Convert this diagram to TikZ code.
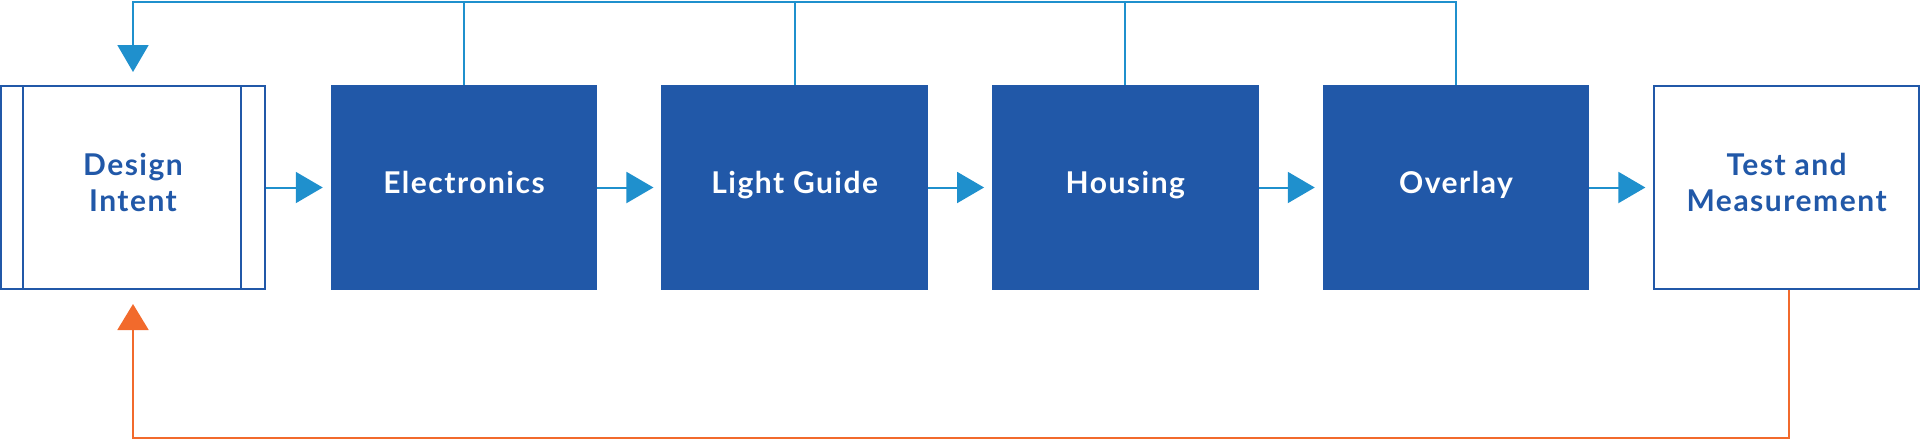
\documentclass[tikz,border=0pt]{standalone}
\usepackage{fontspec}
\setmainfont{Lato}[LetterSpace=5]
\usetikzlibrary{arrows.meta}
\definecolor{boxblue}{HTML}{2158A8}
\definecolor{lineblue}{HTML}{1F90CD}
\definecolor{orng}{HTML}{F26A2C}
\begin{document}
\begin{tikzpicture}[x=0.5pt,y=-0.5pt,
  stage/.style={draw=boxblue,line width=1pt,fill=boxblue,text=white,minimum width=132.25pt,minimum height=101.5pt,inner sep=0pt,font=\fontsize{15}{18}\selectfont\bfseries,text height=10.75pt,text depth=5pt},
  endbox/.style={draw=boxblue,line width=1pt,fill=white,minimum width=132.25pt,minimum height=101.5pt,inner sep=0pt},
  endlbl/.style={text=boxblue,font=\fontsize{15}{18}\selectfont\bfseries,align=center,inner sep=0pt,yshift=2.45pt},
  flow/.style={draw=lineblue,line width=1pt,-{Triangle[length=13.5pt,width=15.5pt]}},
  fb/.style={draw=lineblue,line width=1pt},
  ret/.style={draw=orng,line width=1pt,-{Triangle[length=13pt,width=15.5pt]}}]
\useasboundingbox (0,0) rectangle (1920,439);
\node[endbox,minimum width=132pt,label={[endlbl]center:{Design\\Intent}}] (di) at (133,187.5) {};
\draw[boxblue,line width=1pt] ([xshift=11.5pt]di.north west) -- ([xshift=11.5pt]di.south west)
  ([xshift=-12.5pt]di.north east) -- ([xshift=-12.5pt]di.south east);
\node[stage] (el) at (464,187.5) {Electronics};
\node[stage] (lg) at (794.7,187.5) {Light Guide};
\node[stage] (ho) at (1125.3,187.5) {Housing};
\node[stage] (ov) at (1456,187.5) {Overlay};
\node[endbox,label={[endlbl]center:{Test and\\Measurement}}] (tm) at (1786.6,187.5) {};
\coordinate (top) at (133,1.5);
\coordinate (bot) at (1788.6,437.5);
\foreach \a/\b in {di/el,el/lg,lg/ho,ho/ov,ov/tm}
  \draw[flow,shorten >=4pt] (\a.east) -- (\b.west);
\draw[fb] (el.north) -- (el.north |- top);
\draw[fb] (lg.north) -- (lg.north |- top);
\draw[fb] (ho.north) -- (ho.north |- top);
\draw[flow,shorten >=6.5pt] (ov.north) |- (top) -- (di.north);
\draw[ret,shorten >=7pt] (tm.south -| bot) -- (bot) -| (di.south);
\end{tikzpicture}
\end{document}
